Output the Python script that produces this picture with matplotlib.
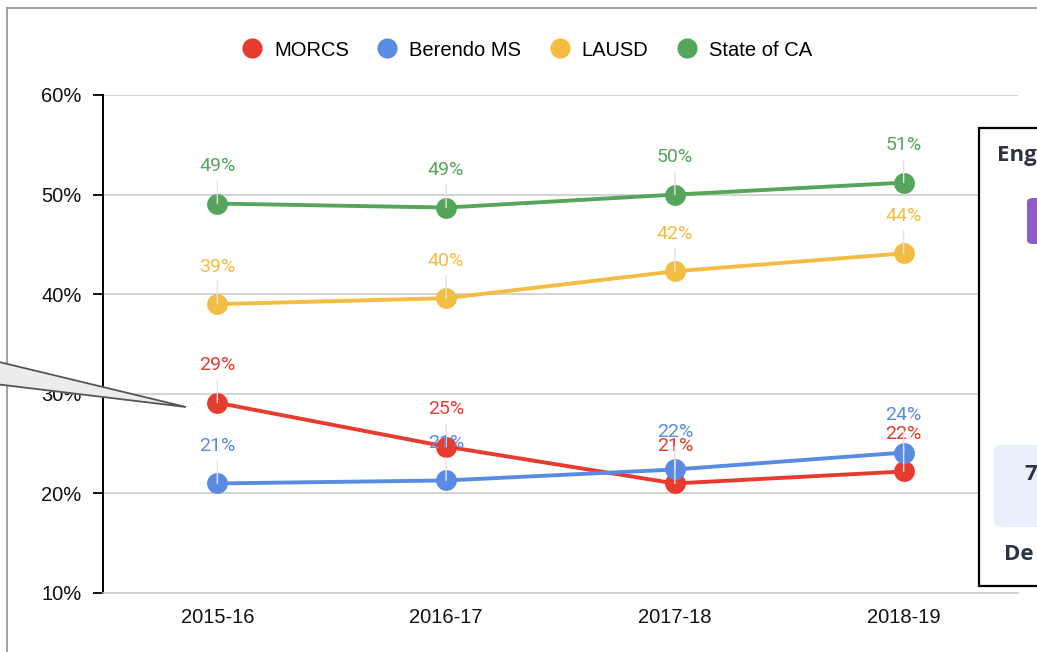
import matplotlib
matplotlib.use("Agg")
import matplotlib.pyplot as plt
from matplotlib.lines import Line2D
from matplotlib.patches import Rectangle, Polygon, FancyBboxPatch

plt.rcParams['font.family'] = ['Liberation Sans', 'DejaVu Sans']

years = ["2015-16", "2016-17", "2017-18", "2018-19"]
series_names = ["MORCS", "Berendo MS", "LAUSD", "State of CA"]
morcs = [29.1, 24.7, 21.0, 22.2]
berendo = [21.0, 21.3, 22.4, 24.1]
lausd = [39.0, 39.6, 42.3, 44.1]
state_ca = [49.1, 48.7, 50.0, 51.2]
labels_morcs = ["29%", "25%", "21%", "22%"]
labels_berendo = ["21%", "21%", "22%", "24%"]
labels_lausd = ["39%", "40%", "42%", "44%"]
labels_state = ["49%", "49%", "50%", "51%"]
y_ticks = [10, 20, 30, 40, 50, 60]
y_tick_labels = ["10%", "20%", "30%", "40%", "50%", "60%"]

colors = ["#E63B2E", "#5A8BE2", "#F2BD42", "#55A55B"]
W, H = 1037, 652

fig = plt.figure(figsize=(W / 100, H / 100), dpi=100)
fig.patch.set_facecolor("white")


def fx(px):
    return px / W


def fy(py):
    return 1 - py / H


ax = fig.add_axes([fx(103), fy(593), fx(1018) - fx(103), fy(95) - fy(593)])
x = list(range(len(years)))
all_vals = [morcs, berendo, lausd, state_ca]
all_labels = [labels_morcs, labels_berendo, labels_lausd, labels_state]

for vals, labs, c, name in zip(all_vals, all_labels, colors, series_names):
    ax.plot(x, vals, color=c, lw=2.8, marker="o", markersize=15,
            markeredgewidth=0, label=name, zorder=3, solid_capstyle="round")
    for xi, v, lab in zip(x, vals, labs):
        ax.annotate(lab, xy=(xi, v), xytext=(0, 27), textcoords="offset points",
                    ha="center", va="center", color=c, fontsize=14,
                    family=["Roboto", "DejaVu Sans"], zorder=4,
                    arrowprops=dict(arrowstyle="-", color="#e4e4e4", lw=1,
                                    shrinkA=2, shrinkB=0, zorder=1))

ax.set_xlim(-0.5, 3.5)
ax.set_ylim(10, 60)
ax.set_xticks(x)
ax.set_xticklabels(years, fontsize=14.5, color="#111111")
ax.set_yticks(y_ticks)
ax.set_yticklabels(y_tick_labels, fontsize=14.5, color="#111111")
ax.tick_params(axis="x", length=0, pad=11)
ax.tick_params(axis="y", direction="out", length=7.5, width=1.3, color="black", pad=8)
ax.grid(axis="y", color="#cccccc", lw=1.2, zorder=0)
ax.set_axisbelow(True)
for s in ["top", "right"]:
    ax.spines[s].set_visible(False)
ax.spines["left"].set_color("black")
ax.spines["left"].set_linewidth(1.4)
ax.spines["bottom"].set_color("#cccccc")
ax.spines["bottom"].set_linewidth(1.2)

handles = [Line2D([], [], marker="o", color=c, lw=0, markersize=14.5, markeredgewidth=0)
           for c in colors]
fig.legend(handles, series_names, loc="center", bbox_to_anchor=(fx(527), fy(50)),
           ncol=4, frameon=False, fontsize=14.5, handlelength=1.0,
           handletextpad=0.6, columnspacing=1.4, borderaxespad=0)

# outer frame of the screenshot
fig.add_artist(Line2D([fx(7), fx(7)], [fy(8), fy(652)], color="#9a9a9a", lw=1.3))
fig.add_artist(Line2D([fx(7), fx(1037)], [fy(8), fy(8)], color="#9a9a9a", lw=1.3))

# callout triangle overlay
tri = Polygon([(fx(-5), fy(361)), (fx(186), fy(407)), (fx(-5), fy(384))],
              closed=True, facecolor="#ececec", edgecolor="#555555", lw=1.3,
              transform=fig.transFigure, zorder=10)
fig.add_artist(tri)

# right-side overlay card
box = Rectangle((fx(979), fy(586)), fx(1060) - fx(979), fy(128) - fy(586),
                facecolor="white", edgecolor="black", lw=1.6,
                transform=fig.transFigure, zorder=10)
fig.add_artist(box)
purple = FancyBboxPatch((fx(1027), fy(244)), fx(1060) - fx(1027), fy(198) - fy(244),
                        boxstyle="round,pad=0,rounding_size=0.006",
                        facecolor="#8E5CC6", edgecolor="none",
                        transform=fig.transFigure, zorder=11)
fig.add_artist(purple)
lightblue = FancyBboxPatch((fx(994), fy(527)), fx(1060) - fx(994), fy(445) - fy(527),
                           boxstyle="round,pad=0,rounding_size=0.008",
                           facecolor="#E7F0FB", edgecolor="none",
                           transform=fig.transFigure, zorder=11)
fig.add_artist(lightblue)
fig.text(fx(997), fy(155), "Eng", fontsize=16, fontweight="bold", color="#2E3445",
         va="center", ha="left", zorder=12, family=["Open Sans", "DejaVu Sans"])
fig.text(fx(1024), fy(474), "7", fontsize=16, fontweight="bold", color="#2E3445",
         va="center", ha="left", zorder=12, family=["Open Sans", "DejaVu Sans"])
fig.text(fx(1004), fy(555), "De", fontsize=16, fontweight="bold", color="#2E3445",
         va="center", ha="left", zorder=12, family=["Open Sans", "DejaVu Sans"])

fig.savefig("out.png", dpi=100)
